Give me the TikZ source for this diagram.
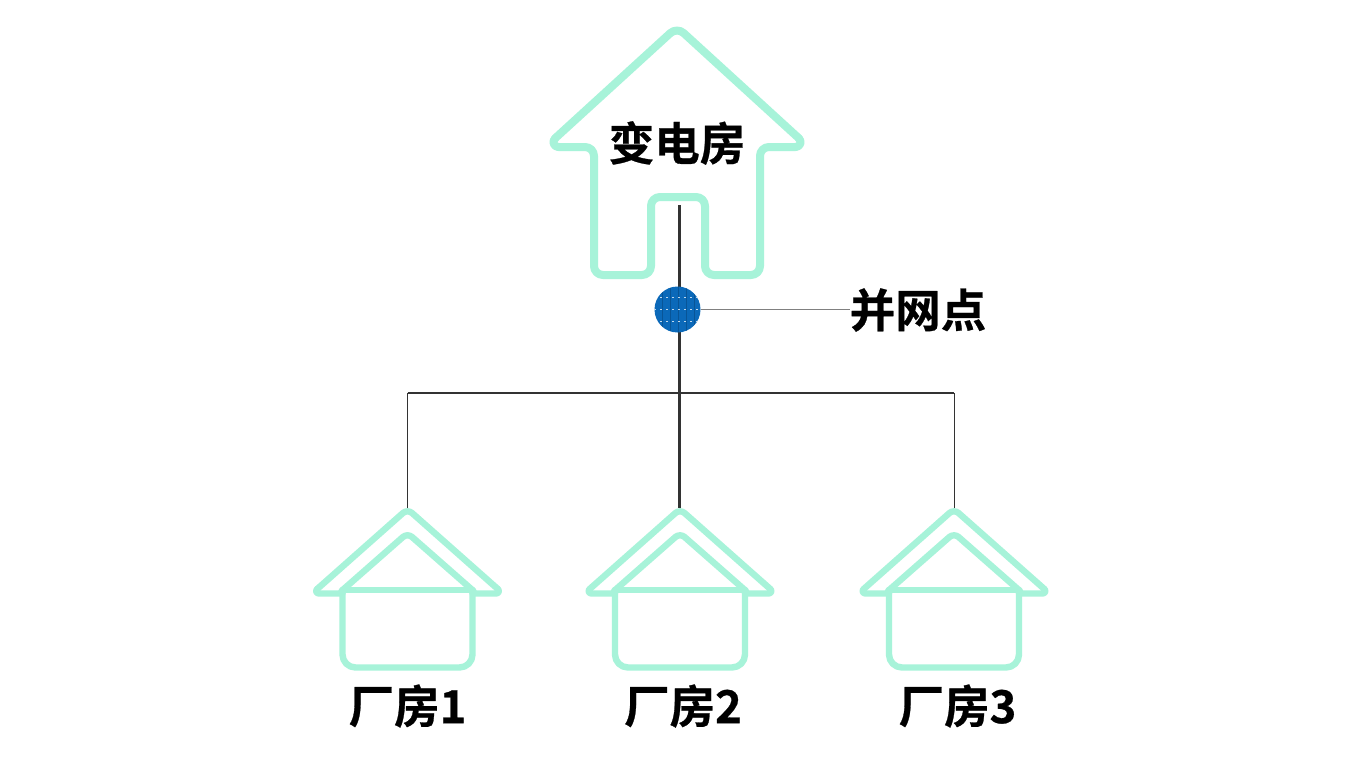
\documentclass[tikz,border=0pt]{standalone}
\usepackage{fontspec}
\newfontfamily\cjkb[BoldFont={Noto Sans CJK SC Bold},BoldFeatures={FakeBold=0.6}]{Noto Sans CJK SC}
\definecolor{mint}{HTML}{A7F3D9}
\definecolor{solar}{HTML}{0B69B9}
\definecolor{wire}{HTML}{333333}
\tikzset{
  bigout/.style={draw=mint,line width=8pt,line join=round,line cap=round,rounded corners=9pt},
  bigtip/.style={draw=mint,line width=8pt,line join=round,line cap=round},
  smallout/.style={draw=mint,line width=6.4pt,line join=round,line cap=round},
  lab/.style={font=\cjkb\bfseries\fontsize{45.5}{48}\selectfont,text=black,inner sep=0pt},
  trunk/.style={draw=wire,line width=3pt},
  branch/.style={draw=wire,line width=1pt},
  pv/.style={circle,fill=solar,minimum size=46pt,inner sep=0pt},
  leader/.style={draw=gray,line width=1pt},
}
\newcommand{\smallhouse}[2]{%
  \begin{scope}[shift={(#1,0)}]
    \coordinate (#2top) at (0,508);
    \draw[smallout] (-65,593.5) -- (-88.4,593.5) .. controls (-91.2,593.5) and (-92.4,590.8) .. (-90.3,589);
    \draw[smallout,rounded corners=6pt] (-90.3,589) -- (0,509) -- (90.3,589);
    \draw[smallout] (90.3,589) .. controls (92.4,590.8) and (91.2,593.5) .. (88.4,593.5) -- (65,593.5);
    \draw[smallout,rounded corners=6pt] (-66,591) -- (0,533) -- (66,591);
    \draw[smallout,rounded corners=13pt] (-65,590) -- (-65,667.5) -- (65,667.5) -- (65,590);
    \draw[smallout,line cap=butt] (-65,590) -- (65,590);
  \end{scope}}
\begin{document}
\begin{tikzpicture}[x=1pt,y=-1pt]
\useasboundingbox (0,0) rectangle (1366,768);
\fill[white] (0,0) rectangle (1366,768);
% substation
\draw[bigout] (555.1,138.3) -- (677,27) -- (798.9,138.3);
\draw[bigtip] (798.9,138.3) .. controls (802.3,141.4) and (800.2,147) .. (795.6,147);
\draw[bigout] (795.6,147) -- (760,147) -- (760,275) -- (705,275) -- (705,197) -- (651,197) -- (651,275) -- (594,275) -- (594,147) -- (558.4,147);
\draw[bigtip] (558.4,147) .. controls (553.8,147) and (551.7,141.4) .. (555.1,138.3);
\node[lab] (sub) at (677,143) {变电房};
\coordinate (door) at (679.5,205);
% small houses
\smallhouse{407.5}{a}
\smallhouse{680}{b}
\smallhouse{954}{c}
% wiring
\coordinate (junction) at (679.5,393);
\coordinate (ja) at (407.5,393);
\coordinate (jc) at (954,393);
\draw[trunk] (door) -- (679.5,508);
\draw[draw=wire,line width=1.5pt] (ja) -- (jc);
\draw[branch] (ja) -- (atop);
\draw[branch] (jc) -- (ctop);
% grid point
\node[pv] (pv) at (677.5,309.5) {};
\begin{scope}
  \clip (677.5,309.5) circle (23);
  \foreach \x in {662,670,678,686,694} \draw[black!60!solar,opacity=.3,line width=.6pt] (\x,286) -- (\x,333);
  \foreach \y in {297.5,309.5,321} \draw[white,opacity=.75,line width=.9pt,dash pattern=on 1.5pt off 4.5pt] (654,\y) -- (701,\y);
\end{scope}
\node[lab] (gp) at (918,310) {并网点};
\draw[leader] (pv.east) -- (pv.east -| gp.west);
% labels
\node[lab] (l1) at (407.5,706) {厂房1};
\node[lab] (l2) at (683,706) {厂房2};
\node[lab] (l3) at (957.5,706) {厂房3};
\end{tikzpicture}
\end{document}
